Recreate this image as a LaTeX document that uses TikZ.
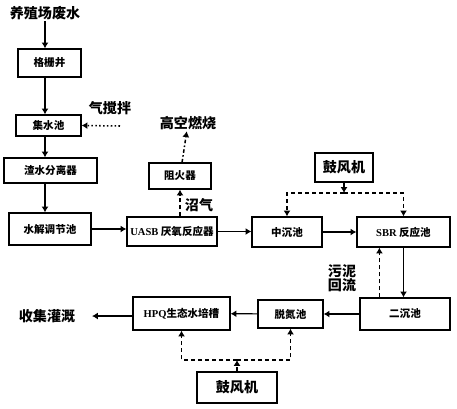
\documentclass[tikz,border=0pt]{standalone}
\usepackage{fontspec}
\setmainfont{Noto Sans CJK SC}
\newfontfamily\latin{Liberation Serif}
\usetikzlibrary{arrows.meta,positioning}

\begin{document}
\begin{tikzpicture}[x=0.03cm ,y=-0.03cm ,
semithick ,
box/.style ={rectangle ,draw ,line width=1pt ,inner sep=0pt ,
font=\fontsize{9}{10}\selectfont\bfseries},
fan/.style ={box ,font=\fontsize{12}{14}\selectfont\bfseries},
lbl/.style ={inner sep=1pt ,font=\fontsize{12}{14}\selectfont\bfseries},
flow/.style ={line width=1pt ,-{Latex[length=5pt,width=6pt]}},
air/.style ={flow ,line width=1.3pt ,dash pattern=on 3.5pt off 2.5pt}]

\useasboundingbox (0,0) rectangle (457,408);

\node[lbl] (src) at (45,13) {养殖场废水};
\node[box,minimum width=1.89cm,minimum height=0.84cm] (gs) at (49.5,63) {格栅井};
\node[box,minimum width=1.95cm,minimum height=0.63cm] (jsc) at (48.5,125.5) {集水池};
\node[lbl] (qjb) at (110,108) {气搅拌};
\coordinate (air1) at (120,126);
\node[box,minimum width=2.79cm,minimum height=0.75cm] (zs) at (50.5,170.5) {渣水分离器};
\node[box,minimum width=2.46cm,minimum height=0.96cm] (sj) at (50,229) {水解调节池};
\node[box,minimum width=2.7cm,minimum height=0.87cm] (uasb) at (172,231.5) {{\latin UASB} 厌氧反应器};
\node[box,minimum width=1.86cm,minimum height=0.78cm] (zr) at (180,176) {阻火器};
\node[lbl] (gk) at (188,123) {高空燃烧};
\node[lbl] (zq) at (199,205) {沼气};
\node[fan,minimum width=1.74cm,minimum height=0.87cm] (gf1) at (344,167.5) {鼓风机};
\coordinate (ja) at (344,193);
\node[box,minimum width=2.1cm,minimum height=0.9cm] (zc) at (287,232) {中沉池};
\node[box,minimum width=2.79cm,minimum height=0.9cm] (sbr) at (403.5,232) {{\latin SBR} 反应池};
\node[box,minimum width=2.7cm,minimum height=0.96cm] (ec) at (405,314) {二沉池};
\node[lbl,align=center] (wn) at (342,278) {污泥\\[-2pt]回流};
\node[box,minimum width=1.95cm,minimum height=0.84cm] (td) at (290.5,314) {脱氮池};
\node[box,minimum width=2.91cm,minimum height=0.99cm] (hpq) at (181.5,313.5) {{\latin HPQ}生态水培槽};
\node[lbl] (sg) at (47,316) {收集灌溉};
\coordinate (outlet) at (92,316);
\node[fan,minimum width=2.4cm,minimum height=0.93cm] (gf2) at (237,387.5) {鼓风机};
\coordinate (jb) at (237,360);

\draw[flow] (src) -- (src |- gs.north);
\draw[flow] (gs.south -| src) -- (jsc.north -| src);
\draw[flow] (jsc.south -| src) -- (zs.north -| src);
\draw[flow] (zs.south -| src) -- (sj.north -| src);
\draw[flow,line width=1.3pt,dotted] (air1) -- (jsc.east);
\draw[air] (uasb.north -| zr) -- (zr.south);
\draw[flow,line width=1.3pt,dash dot] (zr) -- (gk);
\draw[flow] (sj) -- (sj -| uasb.west);
\draw[flow] (uasb.east) -- (uasb.east -| zc.west);
\draw[flow] (zc) -- (sbr);
\draw[air] (gf1) -- (ja);
\draw[air] (ja) -| (zc.north);
\draw[air] (ja) -| (sbr.north);
\draw[flow] (sbr.south) -- (sbr.south |- ec.north);
\draw[air] ([xshift=0.6cm]ec.north west) -- ([xshift=0.6cm]ec.north west |- sbr.south);
\draw[flow] (ec) -- (td);
\draw[flow] (td) -- (hpq);
\draw[flow] (hpq.west |- outlet) -- (outlet);
\draw[air] (gf2) -- (jb);
\draw[air] (jb) -| (hpq.south);
\draw[air] (jb) -| (td.south);
\end{tikzpicture}
\end{document}
